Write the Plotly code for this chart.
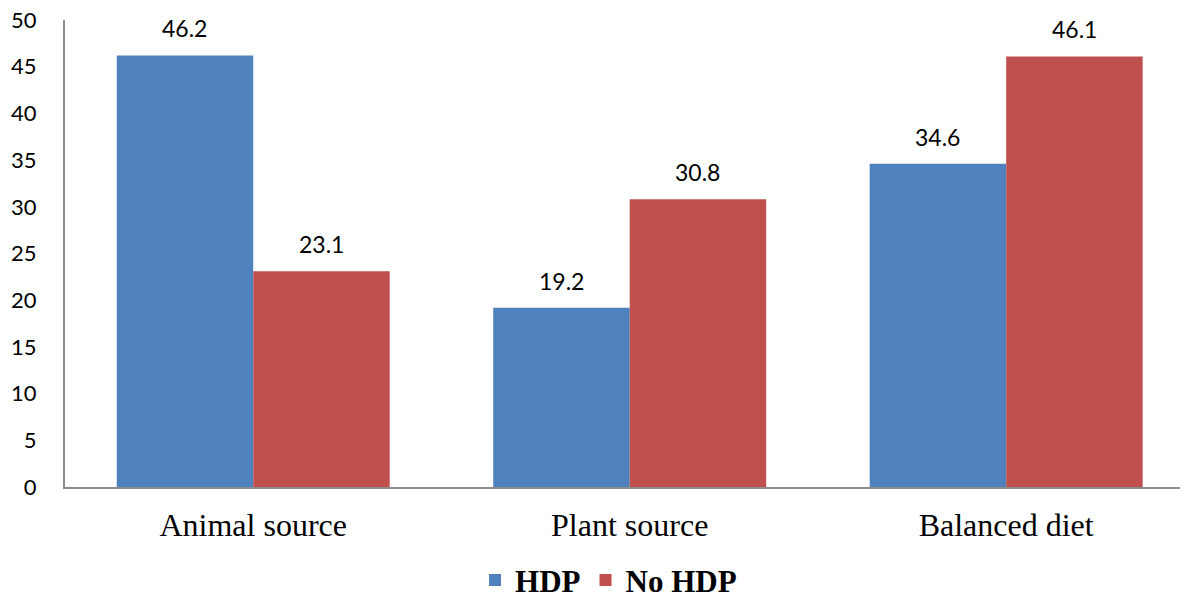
import plotly.graph_objects as go

categories = ["Animal source", "Plant source", "Balanced diet"]
hdp = [46.2, 19.2, 34.6]
no_hdp = [23.1, 30.8, 46.1]
y_ticks = [0, 5, 10, 15, 20, 25, 30, 35, 40, 45, 50]

BLUE = "#4F81BD"
RED = "#C0504D"
W, H = 1180, 591
ML, MR, MT, MB = 57, 0, 12, 112
BARGAP = 0.275
X_RANGE = [-0.5, 2.483]
SERIF = "Liberation Serif, Times New Roman, DejaVu Serif, serif"

fig = go.Figure()
fig.add_trace(go.Bar(name="HDP", x=categories, y=hdp, marker_color=BLUE, marker_line_width=0))
fig.add_trace(go.Bar(name="No HDP", x=categories, y=no_hdp, marker_color=RED, marker_line_width=0))

# data labels above bars
plot_w = W - ML - MR
cat_px = plot_w / (X_RANGE[1] - X_RANGE[0])
bar_px = cat_px * (1 - BARGAP) / 2
annotations = []
for vals, sign in ((hdp, -1), (no_hdp, 1)):
    for c, v in zip(categories, vals):
        annotations.append(dict(
            x=c, y=v, xref="x", yref="y", text=f"{v}", showarrow=False,
            xshift=sign * bar_px / 2, yshift=11, yanchor="bottom",
            font=dict(family="Lato", size=23, color="black"),
        ))

fig.update_layout(
    width=W, height=H,
    margin=dict(l=ML, r=MR, t=MT, b=MB, autoexpand=False),
    paper_bgcolor="white", plot_bgcolor="white",
    barmode="group", bargap=BARGAP, bargroupgap=0,
    showlegend=True,
    legend=dict(orientation="h", x=0.484, xanchor="center", y=-0.2, yanchor="middle",
                font=dict(family=SERIF, size=31, color="black", weight="bold"),
                itemwidth=30, traceorder="normal"),
    annotations=annotations,
)
fig.update_xaxes(range=X_RANGE, showline=True, linecolor="#8c8c8c", linewidth=2, ticks="",
                 automargin=False, ticklabeloverflow="allow",
                 tickfont=dict(family=SERIF, size=32, color="black"),
                 ticklabelstandoff=9, showgrid=False)
fig.update_yaxes(range=[0, 50], tickvals=y_ticks, showline=True, linecolor="#8c8c8c", linewidth=2,
                 ticks="", showgrid=False, zeroline=False, automargin=False,
                 ticklabeloverflow="allow",
                 tickfont=dict(family="Lato", size=22, color="black"), ticklabelstandoff=22)

fig.write_html("out.html")
